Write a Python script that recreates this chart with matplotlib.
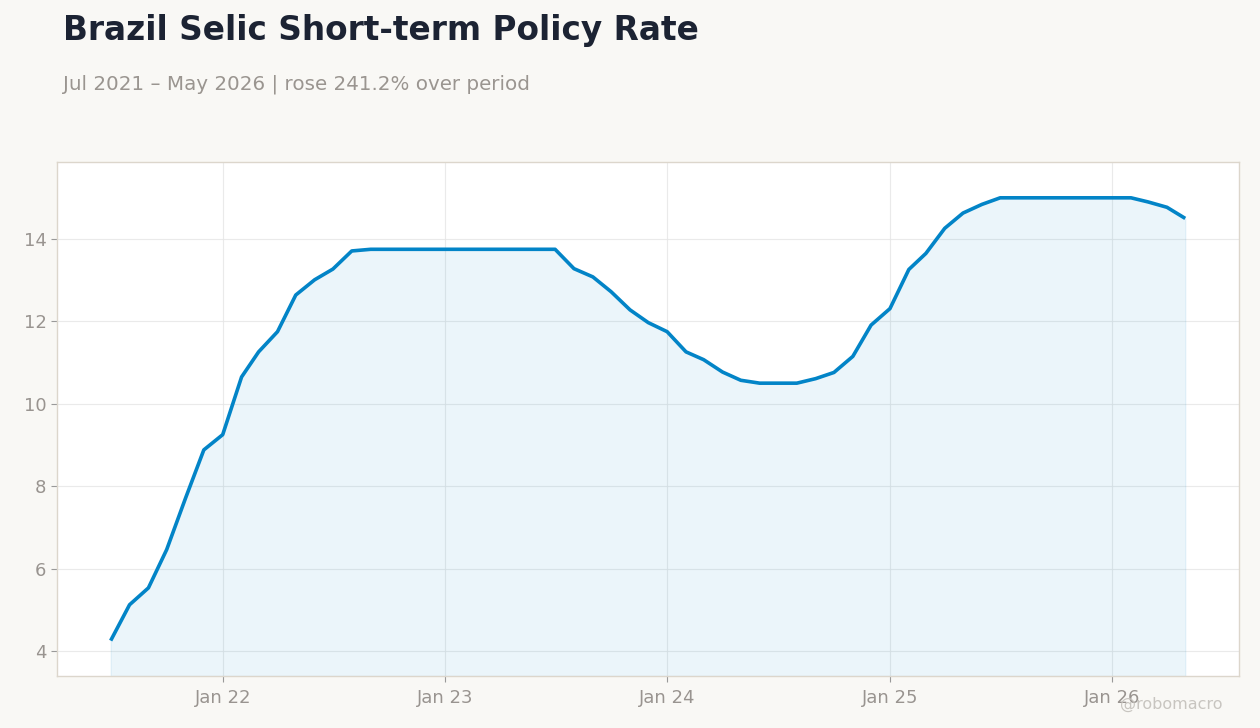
import matplotlib
matplotlib.use("Agg")
import matplotlib.pyplot as plt
import pandas as pd
import matplotlib.dates as mdates

plt.rcParams["font.family"] = ["DejaVu Sans"]

start = "2021-07-01"
end = "2026-05-01"
rate_2021 = [4.25, 5.12, 5.53, 6.46, 7.71, 8.88]
rate_2022 = [9.25, 10.65, 11.26, 11.75, 12.64, 13.01, 13.27, 13.71, 13.75, 13.75, 13.75, 13.75]
rate_2023 = [13.75, 13.75, 13.75, 13.75, 13.75, 13.75, 13.75, 13.28, 13.08, 12.72, 12.28, 11.97]
rate_2024 = [11.75, 11.26, 11.07, 10.77, 10.57, 10.50, 10.50, 10.50, 10.61, 10.76, 11.15, 11.91]
rate_2025 = [12.31, 13.26, 13.65, 14.26, 14.63, 14.84, 15.0, 15.0, 15.0, 15.0, 15.0, 15.0]
rate_2026 = [15.0, 15.0, 14.90, 14.77, 14.50]

dates = pd.date_range(start, end, freq="MS")
values = rate_2021 + rate_2022 + rate_2023 + rate_2024 + rate_2025 + rate_2026

title = "Brazil Selic Short-term Policy Rate"
subtitle = "Jul 2021 \u2013 May 2026 | rose 241.2% over period"
y_ticks = [4, 6, 8, 10, 12, 14]

bg = "#f9f8f5"
line_color = "#0284c7"
fig = plt.figure(figsize=(12.6, 7.28), dpi=100, facecolor=bg)
ax = fig.add_axes([0.0452, 0.0714, 0.9381, 0.7061])
ax.set_facecolor("white")

ymin, ymax = 3.39, 15.87
ax.fill_between(dates, values, ymin, color=line_color, alpha=0.08, linewidth=1)
ax.plot(dates, values, color=line_color, linewidth=2.6, solid_capstyle="butt")
ax.set_ylim(ymin, ymax)
ax.set_yticks(y_ticks)

ax.xaxis.set_major_locator(mdates.YearLocator())
ax.xaxis.set_major_formatter(mdates.DateFormatter("Jan %y"))
ax.margins(x=0.05)

ax.grid(True, color="#e5e5e5", linewidth=0.8, alpha=0.8)
ax.set_axisbelow(True)
for s in ax.spines.values():
    s.set_color("#dcd6cc")
    s.set_linewidth(1.0)
ax.tick_params(colors="#999999", labelsize=13, length=4, width=0.8)
ax.tick_params(axis="x", pad=5)
for lbl in ax.get_xticklabels() + ax.get_yticklabels():
    lbl.set_color("#999490")

fig.text(0.05, 0.981, title, fontsize=23.6, fontweight="bold", color="#1c2333", va="top", ha="left")
fig.text(0.05, 0.897, subtitle, fontsize=14.3, color="#9a9590", va="top", ha="left")
fig.text(0.97, 0.032, "@robomacro", fontsize=11.5, color="#c8c5c0", ha="right", va="center")

fig.savefig("out.png", dpi=100, facecolor=bg)
